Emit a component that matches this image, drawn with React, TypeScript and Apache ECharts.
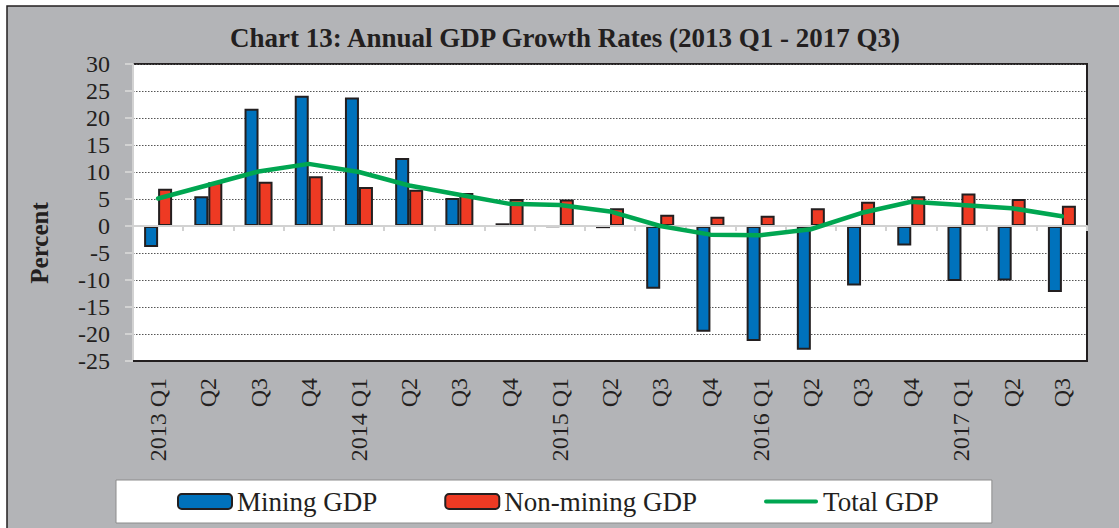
import React, { useEffect, useRef } from "react";
import * as echarts from "echarts";

const quarters = [
  "2013 Q1", "2013 Q2", "2013 Q3", "2013 Q4",
  "2014 Q1", "2014 Q2", "2014 Q3", "2014 Q4",
  "2015 Q1", "2015 Q2", "2015 Q3", "2015 Q4",
  "2016 Q1", "2016 Q2", "2016 Q3", "2016 Q4",
  "2017 Q1", "2017 Q2", "2017 Q3",
];
const tickLabels = [
  "2013 Q1", "Q2", "Q3", "Q4",
  "2014 Q1", "Q2", "Q3", "Q4",
  "2015 Q1", "Q2", "Q3", "Q4",
  "2016 Q1", "Q2", "Q3", "Q4",
  "2017 Q1", "Q2", "Q3",
];
const miningGDP = [-3.9, 5.5, 21.7, 24.1, 23.8, 12.6, 5.2, 0.5, -0.1, -0.4, -11.6, -19.6, -21.3, -22.9, -11.0, -3.6, -10.2, -10.1, -12.2];
const nonMiningGDP = [6.9, 8.1, 8.2, 9.2, 7.2, 6.7, 6.1, 5.0, 4.9, 3.3, 2.1, 1.7, 1.9, 3.3, 4.5, 5.5, 6.0, 5.0, 3.75];
const totalGDP = [5.1, 7.6, 10.1, 11.5, 10.0, 7.5, 5.8, 4.1, 3.9, 2.7, 0.0, -1.6, -1.7, -0.6, 2.4, 4.5, 3.9, 3.3, 1.8];

const TITLE = "Chart 13: Annual GDP Growth Rates (2013 Q1 - 2017 Q3)";
const SERIF = "'Liberation Serif', 'Times New Roman', serif";
const DARK = "#231f20";
const AXIS_GREY = "#d2d2d2";
const GREEN = "#00a651";

export default function App() {
  const ref = useRef<HTMLDivElement>(null);

  useEffect(() => {
    if (!ref.current) return;
    const chart = echarts.init(ref.current, null, { renderer: "svg" });
    const option: any = {
      animation: false,
      backgroundColor: "#ffffff",
      graphic: [
        {
          type: "rect",
          z: -10,
          silent: true,
          shape: { x: 7, y: 6, width: 1300, height: 700 },
          style: { fill: "#b3b4b7", stroke: DARK, lineWidth: 1.5 },
        },
        {
          type: "text",
          z: 10,
          x: 565,
          y: 38,
          style: {
            text: TITLE,
            font: `bold 27px ${SERIF}`,
            fill: DARK,
            textAlign: "center",
            textVerticalAlign: "middle",
          },
        },
        {
          type: "text",
          z: 10,
          x: 39,
          y: 243,
          rotation: Math.PI / 2,
          style: {
            text: "Percent",
            font: `bold 25px ${SERIF}`,
            fill: DARK,
            textAlign: "center",
            textVerticalAlign: "middle",
          },
        },
      ],
      legend: {
        left: 116,
        top: 480,
        padding: [8, 53, 8, 61],
        backgroundColor: "#ffffff",
        borderColor: "#8c8c8c",
        borderWidth: 1,
        itemWidth: 54,
        itemHeight: 15,
        itemGap: 67,
        textStyle: { fontFamily: SERIF, fontSize: 27, color: DARK, lineHeight: 27 },
        data: [
          { name: "Mining GDP" },
          { name: "Non-mining GDP" },
          {
            name: "Total GDP",
            icon: "path://M2,0 L54,0 A2,2 0 0 1 54,4 L2,4 A2,2 0 0 1 2,0 Z",
            itemStyle: { color: GREEN, borderWidth: 0 },
          },
        ],
      },
      grid: {
        left: 133,
        right: 32,
        top: 64,
        bottom: 167,
        show: true,
        backgroundColor: "#ffffff",
        borderColor: DARK,
        borderWidth: 2,
      },
      xAxis: [
        {
          type: "category",
          data: quarters,
          position: "bottom",
          boundaryGap: true,
          axisLine: { show: true, onZero: false, lineStyle: { color: DARK, width: 2 } },
          axisTick: { show: false },
          axisLabel: {
            rotate: 90,
            margin: 17,
            interval: 0,
            fontFamily: SERIF,
            fontSize: 24,
            color: DARK,
            formatter: (_v: string, i: number) => tickLabels[i],
          },
          splitLine: { show: false },
        },
        {
          type: "category",
          data: quarters,
          position: "top",
          boundaryGap: true,
          z: 2,
          axisLine: { show: true, onZero: true, lineStyle: { color: AXIS_GREY, width: 2 } },
          axisTick: { show: true, inside: true, length: 5, interval: 0, lineStyle: { color: AXIS_GREY, width: 2 } },
          axisLabel: { show: false },
          splitLine: { show: false },
        },
      ],
      yAxis: {
        type: "value",
        min: -25,
        max: 30,
        interval: 5,
        axisLine: { show: true, lineStyle: { color: AXIS_GREY, width: 2 } },
        axisTick: { show: true, length: 8, lineStyle: { color: AXIS_GREY, width: 2 } },
        axisLabel: { margin: 23, fontFamily: SERIF, fontSize: 24, color: DARK },
        splitLine: { show: true, lineStyle: { color: "#555555", width: 1, type: [1.5, 1.5] } },
      },
      series: [
        {
          name: "Mining GDP",
          type: "bar",
          xAxisIndex: 0,
          data: miningGDP,
          barWidth: 14,
          barGap: "0%",
          z: 1,
          itemStyle: { color: "#0072bc", borderColor: DARK, borderWidth: 2 },
        },
        {
          name: "Non-mining GDP",
          type: "bar",
          xAxisIndex: 0,
          data: nonMiningGDP,
          barWidth: 14,
          barGap: "0%",
          z: 1,
          itemStyle: { color: "#ee3a23", borderColor: DARK, borderWidth: 2 },
        },
        {
          name: "Total GDP",
          type: "line",
          xAxisIndex: 0,
          data: totalGDP,
          symbol: "none",
          showSymbol: false,
          z: 3,
          lineStyle: { color: GREEN, width: 4.5, cap: "round", join: "round" },
          itemStyle: { color: GREEN },
        },
      ],
    };
    chart.setOption(option);
    return () => chart.dispose();
  }, []);

  return (
    <div
      ref={ref}
      style={{ position: "fixed", left: 0, top: 0, width: 1119, height: 528, background: "#ffffff" }}
    />
  );
}
